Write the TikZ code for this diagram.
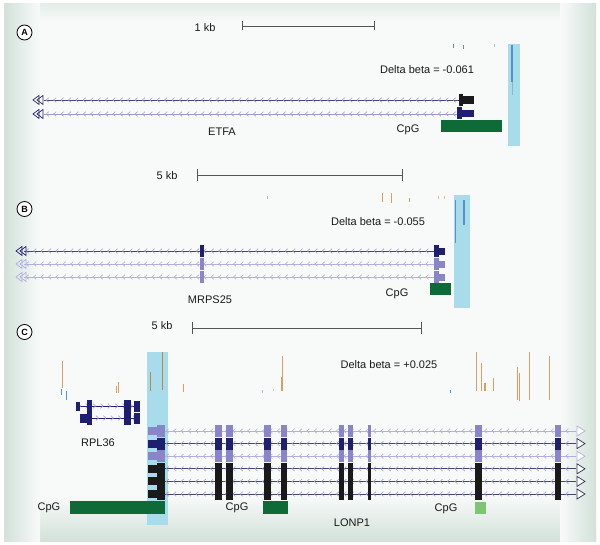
\documentclass[tikz,border=0pt]{standalone}
\usepackage{fontspec}
\setmainfont{Liberation Sans}
\usetikzlibrary{decorations.markings}
\definecolor{navy}{HTML}{1F1F72}
\definecolor{lpur}{HTML}{8A85C8}
\definecolor{lline}{HTML}{B3B0DE}
\definecolor{dline}{HTML}{45446A}
\definecolor{chev}{HTML}{A29FD6}
\definecolor{hl}{HTML}{A8DCEB}
\definecolor{hlline}{HTML}{4F95CC}
\definecolor{orng}{HTML}{D9A060}
\definecolor{cpg}{HTML}{0E6B37}
\definecolor{cpgl}{HTML}{7CC672}
\definecolor{bgc}{HTML}{D3E1DA}
\definecolor{bgw}{HTML}{F8FAF9}
\definecolor{barc}{HTML}{555555}
\definecolor{exblk}{HTML}{1A1A1A}
\definecolor{tridark}{HTML}{2E2E55}
\tikzset{
 lbl/.style={font=\fontsize{11}{13}\selectfont, inner sep=0pt, text=black!90},
 panlbl/.style={circle, draw=black, fill=white, line width=0.8pt, inner sep=0pt, minimum size=15pt, font=\bfseries\fontsize{9}{10}\selectfont},
 sbar/.style={barc, line width=0.7pt},
 trL/.style 2 args={draw=#1, line width=0.8pt, postaction={decorate}, decoration={markings, mark=between positions 3pt and -3pt step 7.4pt with {\draw[#2, line width=0.6pt] (1.8pt,2.3pt) -- (-0.8pt,0pt) -- (1.8pt,-2.3pt);}}},
 trR/.style 2 args={draw=#1, line width=0.8pt, postaction={decorate}, decoration={markings, mark=between positions 3pt and -3pt step 7.4pt with {\draw[#2, line width=0.6pt] (-1.8pt,2.3pt) -- (0.8pt,0pt) -- (-1.8pt,-2.3pt);}}},
 opentri/.style={line width=0.7pt},
 tick/.style={line width=1pt},
}
\newcommand\dtri[3]{%
 \draw[opentri,#3] (#1,#2) -- (#1+6,#2-4.5) -- (#1+6,#2+4.5) -- cycle;
 \draw[opentri,#3] (#1+4,#2) -- (#1+10,#2-4.5) -- (#1+10,#2+4.5) -- cycle;}
\newcommand\lcol[2]{%
 \foreach \yy/\cc in {431/lpur,443.6/navy,456.2/lpur,468.8/exblk,481.4/exblk,494/exblk}{\fill[\cc] (#1,\yy-6.1) rectangle (#2,\yy+6.1);}}
\begin{document}
\begin{tikzpicture}[x=1pt,y=-1pt]
\useasboundingbox (0,0) rectangle (600,545);
\fill[white] (0,0) rectangle (600,545);
% panel background
\fill[bgw] (4,4) rectangle (596,541);
\shade[top color=bgc!60, bottom color=bgw] (4,4) rectangle (596,22);
\shade[top color=bgw, bottom color=bgc] (4,495) rectangle (596,541);
\shade[left color=bgc, right color=bgw] (4,4) rectangle (40,541);
\shade[left color=bgw, right color=bgc] (560,4) rectangle (596,541);

% ---------------- Panel A
\node[panlbl] (labA) at (24.5,32.5) {A};
\node[lbl] (kbA) at (205,28) {1 kb};
\draw[sbar] (242,26) -- (374,26);
\draw[sbar] (242,21) -- (242,30);
\draw[sbar] (374,21) -- (374,30);
\fill[hl] (507.5,44) rectangle (520,146);
\draw[hlline, line width=2.4pt] (512,45) -- (512,82);
\draw[hlline!70, line width=1pt] (512.5,82) -- (512.5,95);
\draw[hlline, tick] (453,44) -- (453,48);
\draw[hlline, tick] (463,45) -- (463,49);
\draw[hlline!60, tick] (494,44) -- (494,47);
\node[lbl] (dbA) at (427,70) {Delta beta = -0.061};
\path[trL={dline}{chev}] (44,100) -- (460,100);
\path[trL={lline!80!dline}{chev}] (44,114) -- (458,114);
\dtri{33}{100}{tridark}
\dtri{33}{114}{navy}
\fill[exblk] (459,94.5) rectangle (463,106);
\fill[exblk] (463,96.5) rectangle (474,104);
\fill[navy] (457,107.5) rectangle (462,119.5);
\fill[navy] (462,110) rectangle (474,117.5);
\fill[cpg] (441,120) rectangle (502,132);
\node[lbl] (cpgA) at (408,130) {CpG};
\node[lbl] (etfa) at (222,132) {ETFA};

% ---------------- Panel B
\node[panlbl] (labB) at (24.5,209) {B};
\node[lbl] (kbB) at (167,176) {5 kb};
\draw[sbar] (197,175) -- (402,175);
\draw[sbar] (197,169) -- (197,181);
\draw[sbar] (402,169) -- (402,181);
\fill[hl] (454,195) rectangle (470,308);
\draw[hlline, line width=1.1pt] (455.5,200) -- (455.5,243);
\draw[hlline, line width=1.1pt] (464,200) -- (464,225);
\draw[gray!60, tick] (267,196) -- (267,199);
\draw[orng, tick] (382,193) -- (382,202);
\draw[orng, tick] (391,193) -- (391,203);
\draw[orng, tick] (409,198) -- (409,202);
\draw[orng!70, tick] (438,196) -- (438,199);
\draw[orng!70, tick] (444,196) -- (444,199);
\node[lbl] (dbB) at (378,222) {Delta beta = -0.055};
\path[trL={dline}{chev}] (24,251) -- (434,251);
\path[trL={lline}{lline}] (24,264) -- (434,264);
\path[trL={lline}{lline}] (24,277) -- (434,277);
\dtri{16}{251}{navy}
\dtri{16}{264}{lline}
\dtri{16}{277}{lline}
\fill[navy] (200,245) rectangle (204,257);
\fill[lpur] (200,258) rectangle (204,270);
\fill[lpur] (200,271) rectangle (204,283);
\fill[navy] (434,245) rectangle (439,257);
\fill[navy] (439,248) rectangle (445,255);
\fill[lpur] (434,258) rectangle (439,270);
\fill[lpur] (439,261) rectangle (445,268);
\fill[lpur] (434,271) rectangle (439,283);
\fill[lpur] (439,274) rectangle (445,281);
\fill[cpg] (430,283) rectangle (451,295);
\node[lbl] (cpgB) at (397,294) {CpG};
\node[lbl] (mrps) at (210,300) {MRPS25};

% ---------------- Panel C
\node[panlbl] (labC) at (24.5,332) {C};
\node[lbl] (kbC) at (162,326) {5 kb};
\draw[sbar] (192,328) -- (421,328);
\draw[sbar] (192,322) -- (192,334);
\draw[sbar] (421,322) -- (421,334);
\fill[hl] (147,352) rectangle (168,525);
% methylation ticks
\draw[orng, tick] (62,361) -- (62,388);
\draw[hlline, tick] (61.5,389) -- (61.5,395);
\draw[hlline, tick] (66,391) -- (66,400);
\draw[orng, tick] (116,386) -- (116,393);
\draw[orng, tick] (118,382) -- (118,393);
\draw[orng!85!black, tick] (150,372) -- (150,391);
\draw[orng!85!black, tick] (162,352) -- (162,390);
\draw[orng, tick] (183,384) -- (183,392);
\draw[orng, tick] (282,356) -- (282,391);
\draw[orng, line width=2pt] (282,377) -- (282,391);
\draw[hlline!60, tick] (262,390) -- (262,393);
\draw[orng!60, tick] (273,389) -- (273,391);
\draw[hlline, tick] (450,390) -- (450,393);
\draw[orng, tick] (476,352) -- (476,391);
\draw[orng, tick] (481,363) -- (481,391);
\draw[orng, line width=1.5pt] (485,383) -- (485,391);
\draw[orng, tick] (493,378) -- (493,391);
\draw[orng, tick] (517,367) -- (517,400);
\draw[orng, tick] (519.5,373) -- (519.5,401);
\draw[orng, tick] (529,352) -- (529,400);
\draw[orng, tick] (549,356) -- (549,400);
\node[lbl] (dbC) at (389,365) {Delta beta = +0.025};
% RPL36
\path[trR={navy}{chev}] (77,406) -- (139,406);
\path[trR={navy}{chev}] (80,418) -- (139,418);
\fill[navy] (76,401.5) rectangle (79.5,410.5);
\fill[navy] (87,400) rectangle (92,413);
\fill[navy] (124,400) rectangle (131,413);
\fill[navy] (133.5,401) rectangle (139.5,411.5);
\fill[navy] (80,414) rectangle (88,422.5);
\fill[navy] (87,411.5) rectangle (92,425);
\fill[navy] (124,411.5) rectangle (131,425);
\fill[navy] (133.5,413) rectangle (139.5,423.5);
\node[lbl] (rpl) at (98,443) {RPL36};
% LONP1 transcripts
\path[trL={lline}{lline}] (164,431) -- (576,431);
\path[trL={dline}{chev}] (164,443.6) -- (576,443.6);
\path[trL={lline}{lline}] (164,456.2) -- (576,456.2);
\path[trL={dline}{chev}] (164,468.8) -- (576,468.8);
\path[trL={dline}{chev}] (164,481.4) -- (576,481.4);
\path[trL={dline}{chev}] (164,494) -- (576,494);
\foreach \yy/\cc in {431/lline,443.6/tridark,456.2/lline,468.8/tridark,481.4/tridark,494/tridark}{
 \draw[opentri,\cc,fill=white] (577,\yy-5) -- (585,\yy) -- (577,\yy+5) -- cycle;}
% first exon (in highlight)
\foreach \yy/\cc in {431/lpur,443.6/navy,456.2/lpur,468.8/exblk,481.4/exblk,494/exblk}{
 \fill[\cc] (148,\yy-4) rectangle (157.5,\yy+4);
 \fill[\cc] (157,\yy-6.1) rectangle (164.5,\yy+6.1);}
\lcol{215}{222}
\lcol{226}{233}
\lcol{264}{271}
\lcol{281}{287}
\lcol{339}{344}
\lcol{348}{353}
\lcol{368}{371}
\lcol{475}{482}
\lcol{555}{561}
% CpG islands
\fill[cpg] (70,501) rectangle (165,514);
\fill[cpg] (263,501) rectangle (288,514);
\fill[cpgl] (475,502) rectangle (485.5,514);
\node[lbl] (cpgC1) at (49,508) {CpG};
\node[lbl] (cpgC2) at (237,508) {CpG};
\node[lbl] (cpgC3) at (446,509) {CpG};
\node[lbl] (lonp) at (352,523) {LONP1};
\end{tikzpicture}
\end{document}
